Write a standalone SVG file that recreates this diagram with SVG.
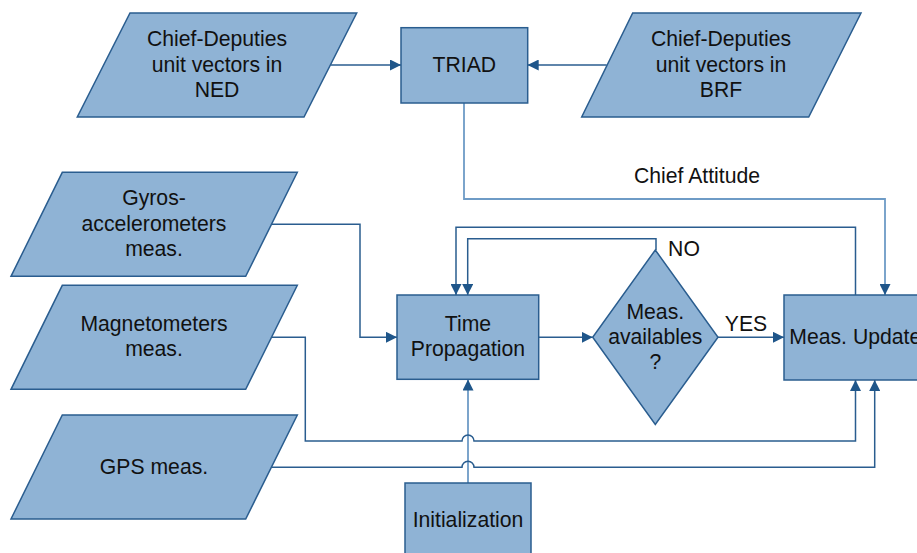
<svg xmlns="http://www.w3.org/2000/svg" width="917" height="553" viewBox="0 0 917 553">
<defs>
<style>
.n{fill:#8fb3d5;stroke:#2a5d8f;stroke-width:1.5}
.t{font-family:"Liberation Sans",Arial,sans-serif;font-size:21.2px;fill:#111;text-anchor:middle}
.c{fill:none;stroke:#2a5d8f;stroke-width:1.5}
.l{fill:none;stroke:#6e9bc6;stroke-width:1.8}
</style>
<marker id="a" markerUnits="userSpaceOnUse" markerWidth="11" markerHeight="11" refX="10" refY="5" orient="auto" viewBox="0 0 10 10">
<path d="M0,0 L10,5 L0,10 z" fill="#1f568a"/>
</marker>
</defs>
<rect width="917" height="553" fill="#fff"/>
<g id="connectors">
<path class="c" d="M330.7,65 H401" marker-end="url(#a)"/>
<path class="c" d="M606.7,65 H527.7" marker-end="url(#a)"/>
<path class="l" d="M464,103 V199 H885 V295" marker-end="url(#a)"/>
<path class="c" d="M271.7,224.3 H360 V337.3 H397" marker-end="url(#a)"/>
<path class="c" d="M855.5,295 V227.3 H456 V295" marker-end="url(#a)"/>
<path class="c" d="M656,250 V238.7 H467.7 V295" marker-end="url(#a)"/>
<path class="c" d="M538.7,337.3 H592.7" marker-end="url(#a)"/>
<path class="c" d="M718,337.3 H784" marker-end="url(#a)"/>
<path class="l" d="M468,483 V379.5" marker-end="url(#a)"/>
<path class="c" d="M271.7,337.3 H305.3 V441 H462 A6,6 0 0 1 474,441 H855.5 V380" marker-end="url(#a)"/>
<path class="c" d="M271,467.3 H462 A6,6 0 0 1 474,467.3 H874.7 V380" marker-end="url(#a)"/>
</g>
<g id="ned">
<polygon class="n" points="130,13 356.7,13 304,117 77.3,117"/>
<text class="t" x="217" y="46">Chief-Deputies</text>
<text class="t" x="217" y="71.5">unit vectors in</text>
<text class="t" x="217" y="97">NED</text>
</g>
<g id="triad">
<rect class="n" x="401" y="27.7" width="126.7" height="75.3"/>
<text class="t" x="464.3" y="72">TRIAD</text>
</g>
<g id="brf">
<polygon class="n" points="632.7,13 861,13 808.7,117 581.7,117"/>
<text class="t" x="721" y="46">Chief-Deputies</text>
<text class="t" x="721" y="71.5">unit vectors in</text>
<text class="t" x="721" y="97">BRF</text>
</g>
<text class="t" x="697" y="182.5">Chief Attitude</text>
<g id="gyros">
<polygon class="n" points="62.3,172.3 297.3,172.3 245.7,276.3 11,276.3"/>
<text class="t" x="154" y="205">Gyros-</text>
<text class="t" x="154" y="231">accelerometers</text>
<text class="t" x="154" y="256">meas.</text>
</g>
<g id="mag">
<polygon class="n" points="62.3,285.3 297.3,285.3 245.7,389.3 11,389.3"/>
<text class="t" x="154" y="331">Magnetometers</text>
<text class="t" x="154" y="356">meas.</text>
</g>
<g id="gps">
<polygon class="n" points="62.3,415 297.3,415 245.7,519 11,519"/>
<text class="t" x="154" y="474">GPS meas.</text>
</g>
<g id="timeprop">
<rect class="n" x="397" y="295" width="141.7" height="84.3"/>
<text class="t" x="468" y="330.5">Time</text>
<text class="t" x="468" y="355.5">Propagation</text>
</g>
<g id="decision">
<polygon class="n" points="655.3,250 718,337.3 655.3,424.5 592.7,337.3"/>
<text class="t" x="655.3" y="318.5">Meas.</text>
<text class="t" x="655.3" y="344">availables</text>
<text class="t" x="655.3" y="369">?</text>
</g>
<text class="t" x="684" y="256">NO</text>
<text class="t" x="746" y="331">YES</text>
<g id="measupdate">
<rect class="n" x="784" y="295" width="150" height="85"/>
<text class="t" x="789.3" y="344.3" style="text-anchor:start">Meas. Update</text>
</g>
<g id="init">
<rect class="n" x="405" y="483" width="126" height="80"/>
<text class="t" x="468" y="527">Initialization</text>
</g>
</svg>
